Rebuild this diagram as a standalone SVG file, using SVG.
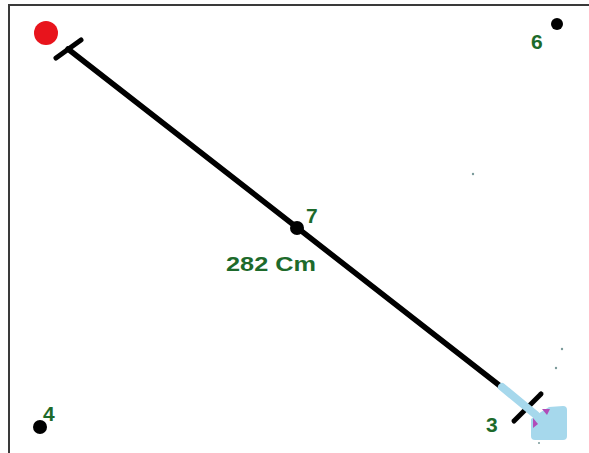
<svg xmlns="http://www.w3.org/2000/svg" width="589" height="453" viewBox="0 0 589 453">
<style>
.lbl{font-family:"Liberation Sans",Arial,sans-serif;font-weight:bold;font-size:21px;fill:#1d6a2b}
.pt{fill:#000}
.frame{stroke:#3a3a3a;stroke-width:2;fill:none}
.speck{fill:#7a9a9a}
</style>
<rect x="0" y="0" width="589" height="453" fill="#fff"/>
<path class="frame" d="M9,453 L9,5 L589,5"/>
<g id="connectors">
<line x1="68" y1="49" x2="504" y2="389" stroke="#000" stroke-width="5.5" stroke-linecap="round"/>
<line x1="56" y1="58" x2="81" y2="40" stroke="#000" stroke-width="5" stroke-linecap="round"/>
<line x1="514" y1="421" x2="541" y2="394" stroke="#000" stroke-width="5" stroke-linecap="round"/>
<line x1="502" y1="387" x2="536" y2="415" stroke="#a6d8ec" stroke-width="8" stroke-linecap="round"/>
<path d="M531,419 L541,412 L549,407 L563,406 Q567,406 567,410 L567,436 Q567,440 563,440 L535,440 Q531,440 531,436 Z" fill="#a6d8ec"/>
<path d="M542,409 L550,409 L547,415 Z" fill="#b14cb8"/>
<path d="M533,418 L538,424 L533,428 Z" fill="#b14cb8"/>
</g>
<g id="start">
<circle cx="46" cy="33" r="12" fill="#e8141c"/>
</g>
<g id="node7">
<circle class="pt" cx="297" cy="228" r="7"/>
<text class="lbl" x="306" y="223">7</text>
<text class="lbl" x="226" y="271" textLength="90" lengthAdjust="spacingAndGlyphs">282 Cm</text>
</g>
<g id="node6">
<circle class="pt" cx="557" cy="24" r="6"/>
<text class="lbl" x="531" y="49">6</text>
</g>
<g id="node4">
<circle class="pt" cx="40" cy="427" r="7"/>
<text class="lbl" x="43" y="421" font-size="18">4</text>
</g>
<g id="node3">
<text class="lbl" x="486" y="432">3</text>
</g>
<circle class="speck" cx="473" cy="174" r="1.2"/>
<circle class="speck" cx="562" cy="349" r="1.2"/>
<circle class="speck" cx="556" cy="368" r="1.2"/>
<circle class="speck" cx="539" cy="443" r="1"/>
</svg>
